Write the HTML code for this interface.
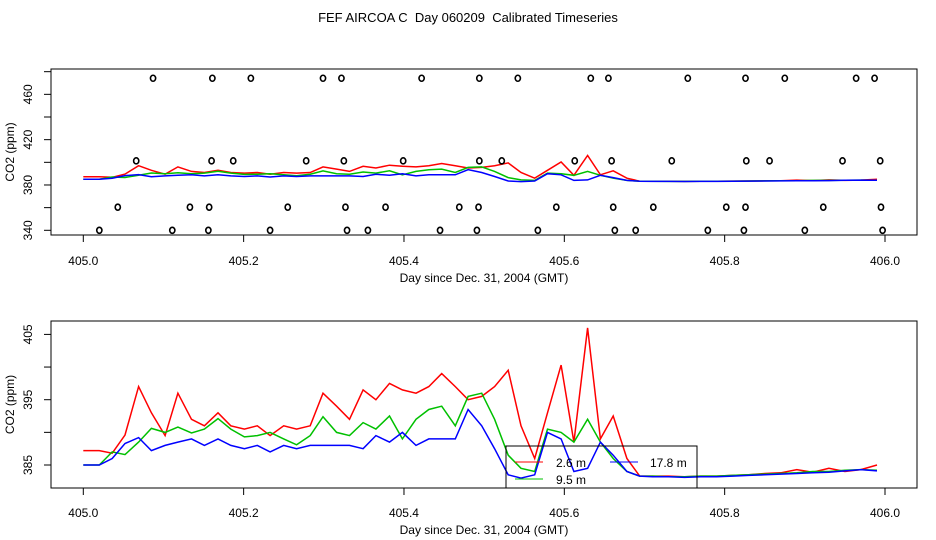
<!DOCTYPE html>
<html><head><meta charset="utf-8"><style>
body{margin:0;background:#fff;}
svg{display:block;font-family:"Liberation Sans",sans-serif;}
text{white-space:pre;}
</style></head><body>
<svg id="chart" width="936" height="540" viewBox="0 0 936 540" xmlns="http://www.w3.org/2000/svg">
<text x="468" y="22" font-size="13" text-anchor="middle" xml:space="preserve">FEF AIRCOA C  Day 060209  Calibrated Timeseries</text>
<g id="top"></g><g id="bot"></g>
</svg>
<script>
const days=[0.000,0.020,0.036,0.052,0.069,0.085,0.102,0.118,0.135,0.151,0.168,0.184,0.201,0.217,0.233,0.250,0.266,0.283,0.299,0.316,0.332,0.349,0.365,0.382,0.398,0.415,0.431,0.447,0.464,0.480,0.497,0.513,0.530,0.546,0.563,0.579,0.596,0.612,0.629,0.645,0.661,0.678,0.694,0.710,0.730,0.750,0.770,0.790,0.810,0.830,0.850,0.870,0.890,0.910,0.930,0.950,0.970,0.990];
const red=[387.2,387.2,386.8,389.6,397.0,393.0,389.5,396.0,392.0,391.0,393.0,391.0,390.5,391.0,389.5,391.0,390.5,391.0,396.0,394.0,392.0,396.5,395.0,397.5,396.5,396.0,397.0,399.0,397.0,395.0,395.5,397.0,399.5,391.0,386.0,393.0,400.3,388.5,406.0,389.0,392.5,386.0,383.3,383.3,383.3,383.2,383.3,383.3,383.4,383.5,383.7,383.8,384.3,383.9,384.5,384.0,384.3,385.0];
const green=[385.0,385.0,387.0,386.6,388.5,390.6,390.0,390.8,389.9,390.5,392.1,390.5,389.3,389.5,390.0,389.0,388.1,389.5,392.4,390.0,389.5,391.5,390.5,392.5,389.0,392.0,393.5,394.0,391.0,395.5,396.0,392.0,386.5,384.5,384.0,390.5,390.0,388.5,392.0,388.5,386.0,384.0,383.3,383.3,383.2,383.2,383.3,383.3,383.4,383.5,383.6,383.7,383.8,384.0,384.0,384.2,384.3,384.2];
const blue=[385.0,385.0,386.0,388.3,389.2,387.2,388.0,388.5,389.0,388.0,389.0,388.0,387.5,388.0,387.0,388.0,387.5,388.0,388.0,388.0,388.0,387.5,389.5,388.5,390.0,388.0,389.0,389.0,389.0,393.5,391.0,387.5,383.5,383.0,383.5,390.0,389.0,384.0,384.5,388.5,386.5,384.0,383.3,383.2,383.2,383.1,383.2,383.2,383.3,383.4,383.5,383.6,383.7,383.8,383.9,384.1,384.3,384.1];
const flagDays1=[0.087,0.161,0.209,0.299,0.322,0.422,0.494,0.542,0.633,0.655,0.754,0.826,0.875,0.964,0.987];
const flagDays2=[0.066,0.160,0.187,0.278,0.325,0.399,0.494,0.522,0.613,0.659,0.734,0.827,0.856,0.947,0.994];
const flagDays3=[0.043,0.133,0.157,0.255,0.327,0.377,0.469,0.493,0.590,0.661,0.711,0.802,0.826,0.923,0.995];
const flagDays4=[0.020,0.111,0.156,0.233,0.329,0.355,0.445,0.491,0.567,0.663,0.689,0.779,0.824,0.900,0.997];
const flagVals=[474.2,401.3,360.4,340.0];
const xTicks=["405.0","405.2","405.4","405.6","405.8","406.0"];
const topTicks=[340,360,380,400,420,440,460,480];
const topLabels=[340,380,420,460];
const botTicks=[385,390,395,400,405];
const botLabels=[385,395,405];

const NS="http://www.w3.org/2000/svg";
function mk(parent,tag,attrs,txt){const e=document.createElementNS(NS,tag);for(const k in attrs)e.setAttribute(k,attrs[k]);if(txt!==undefined)e.textContent=txt;parent.appendChild(e);return e;}
const xs=d=>83.3+801.7*d;

function panel(g,name,L,T,R,B,ys,ticks,labels,lblY,titleY,doFlags){
  const fr=mk(g,'rect',{x:L,y:T,width:R-L,height:B-T,fill:'none',stroke:'#000','stroke-width':1});
  
  
  xTicks.forEach((t,i)=>{const x=xs(i*0.2);
    const tl=mk(g,'line',{x1:x,x2:x,y1:B,y2:B+7,stroke:'#000'});
    
    
    const tx=mk(g,'text',{x:x,y:lblY,'font-size':12,'text-anchor':'middle'},t);
    
    });
  const xt=mk(g,'text',{x:484,y:titleY,'font-size':12,'text-anchor':'middle'},'Day since Dec. 31, 2004 (GMT)');
  
  
  ticks.forEach(v=>{const y=ys(v);
    const tl=mk(g,'line',{x1:L-7,x2:L,y1:y,y2:y,stroke:'#000'});
    
    });
  labels.forEach(v=>{const y=ys(v);
    const tx=mk(g,'text',{x:0,y:0,'font-size':12,'text-anchor':'middle',transform:`translate(32,${y}) rotate(-90)`},String(v));
    
    });
  const yt=mk(g,'text',{x:0,y:0,'font-size':12,'text-anchor':'middle',transform:`translate(14,${(T+B)/2}) rotate(-90)`},'CO2 (ppm)');
  
  
  [[red,'#ff0000','red'],[green,'#00c000','green'],[blue,'#0000ff','blue']].forEach(([s,c,n])=>{
    const p=mk(g,'polyline',{points:s.map((v,i)=>xs(days[i]).toFixed(1)+','+ys(v).toFixed(1)).join(' '),fill:'none',stroke:c,'stroke-width':1.5});
    
    });
  if(doFlags){[flagDays1,flagDays2,flagDays3,flagDays4].forEach((arr,k)=>arr.forEach(d=>{
    const c=mk(g,'ellipse',{cx:xs(d),cy:ys(flagVals[k]),rx:2.6,ry:3,fill:'none',stroke:'#000','stroke-width':1.6});
    
    }));}
}
panel(document.getElementById('top'),'top',51,69,917,235,v=>230.3-(v-340)*1.133,topTicks,topLabels,265,282,true);
panel(document.getElementById('bot'),'bottom',51,321,917,488,v=>465-(v-385)*6.53,botTicks,botLabels,517,534,false);

const bg=document.getElementById('bot');
const lg=mk(bg,'g',{});


mk(lg,'rect',{x:506,y:446,width:191,height:42,fill:'none',stroke:'#000'});
[[515,462,'#ff0000','2.6 m',556],[515,479,'#00c000','9.5 m',556],[610,462,'#0000ff','17.8 m',650]].forEach(([x,y,c,t,tx])=>{
  const e=mk(lg,'g',{});
  
  
  mk(e,'line',{x1:x,x2:x+28,y1:y,y2:y,stroke:c,'stroke-width':1});
  mk(e,'text',{x:tx,y:y+5,'font-size':12},t);
});
</script>
</body></html>
